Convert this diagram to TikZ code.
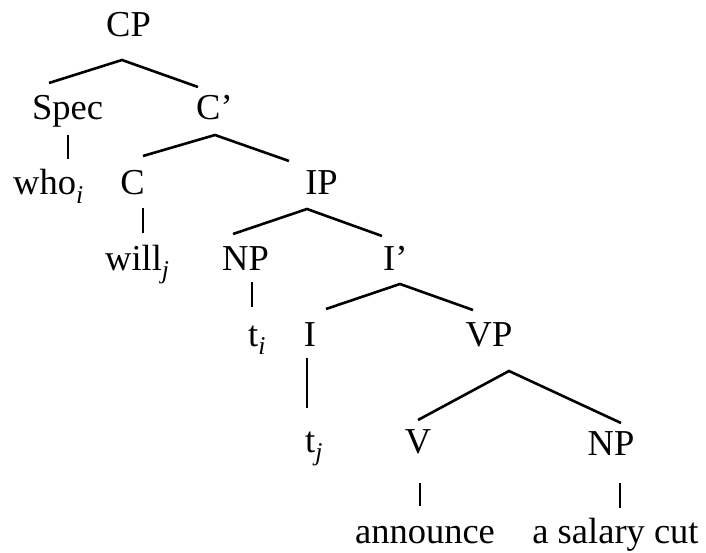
\documentclass[tikz,border=0pt]{standalone}
\usepackage{fontspec}
\setmainfont{Liberation Serif}
\newcommand\tsub[1]{\textsubscript{\itshape #1}}
\begin{document}
\begin{tikzpicture}[x=1pt,y=-1pt,
  lab/.style={anchor=base,inner sep=0pt,font=\fontsize{36.5}{40}\selectfont},
  labw/.style={anchor=base west,inner sep=0pt,font=\fontsize{36.5}{40}\selectfont},
  edge/.style={line width=2.6pt}]
\useasboundingbox (0,0) rectangle (706,553);
% nodes
\node[lab]  (CP)   at (128.5,37) {CP};
\node[lab]  (Spec) at (67.5,120) {Spec};
\node[labw] (Cbar) at (196,120) {C’};
\node[labw] (who)  at (13,195) {who\tsub{i}};
\node[lab]  (C)    at (132.5,195) {C};
\node[lab]  (IP)   at (321.5,195) {IP};
\node[labw] (will) at (105,270) {will\tsub{j}};
\node[lab]  (NP1)  at (245.5,270) {NP};
\node[labw] (Ibar) at (383,270) {I’};
\node[labw] (ti)   at (248,346) {t\tsub{i}};
\node[lab]  (I)    at (310,346) {I};
\node[lab]  (VP)   at (489,346) {VP};
\node[labw] (tj)   at (305,452) {t\tsub{j}};
\node[lab]  (V)    at (418,453) {V};
\node[lab]  (NP2)  at (611,455) {NP};
\node[lab]  (ann)  at (425,543) {announce};
\node[lab]  (sal)  at (615.5,543) {a salary cut};
% connector end points
\coordinate (CPa) at (122,60);
\coordinate (SpecT) at (49,83);
\coordinate (CbarT) at (198,87);
\coordinate (SpecB) at (68,135);
\coordinate (whoT) at (68,159);
\coordinate (Cbara) at (215,135);
\coordinate (CT) at (143,156);
\coordinate (IPT) at (289,161);
\coordinate (CB) at (143,208);
\coordinate (willT) at (143,233);
\coordinate (IPa) at (307,209);
\coordinate (NP1T) at (233,234);
\coordinate (IbarT) at (382,236);
\coordinate (NP1B) at (252,282);
\coordinate (tiT) at (252,307);
\coordinate (Ibara) at (400,284);
\coordinate (IT) at (326,309);
\coordinate (VPT) at (473,310);
\coordinate (IB) at (307,358);
\coordinate (tjT) at (307,408);
\coordinate (VPa) at (509,371);
\coordinate (VT) at (418,420);
\coordinate (NP2T) at (621,423);
\coordinate (VB) at (420,483);
\coordinate (annT) at (420,506);
\coordinate (NP2B) at (620,483);
\coordinate (salT) at (620,508);
% connectors
\draw[edge] (SpecT) -- (CPa) -- (CbarT);
\draw[edge] (SpecB) -- (whoT);
\draw[edge] (CT) -- (Cbara) -- (IPT);
\draw[edge] (CB) -- (willT);
\draw[edge] (NP1T) -- (IPa) -- (IbarT);
\draw[edge] (NP1B) -- (tiT);
\draw[edge] (IT) -- (Ibara) -- (VPT);
\draw[edge] (IB) -- (tjT);
\draw[edge] (VT) -- (VPa) -- (NP2T);
\draw[edge] (VB) -- (annT);
\draw[edge] (NP2B) -- (salT);
\end{tikzpicture}
\end{document}
